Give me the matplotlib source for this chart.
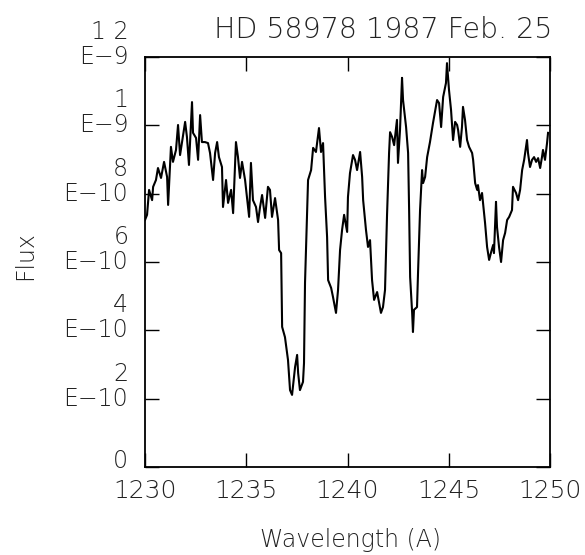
import matplotlib
matplotlib.use("Agg")
import matplotlib.pyplot as plt
import numpy as np

# spectrum (wavelength in A, flux in units of 1e-10)
wavelength = [
    1230.00, 1230.10, 1230.20, 1230.35, 1230.40, 1230.54, 1230.64, 1230.79, 1230.94, 1231.09,
    1231.14, 1231.28, 1231.38, 1231.53, 1231.63, 1231.73, 1231.88, 1231.98, 1232.07, 1232.17,
    1232.32, 1232.37, 1232.52, 1232.62, 1232.72, 1232.81, 1232.96, 1233.11, 1233.21, 1233.36,
    1233.46, 1233.56, 1233.65, 1233.80, 1233.85, 1234.00, 1234.10, 1234.25, 1234.35, 1234.49,
    1234.59, 1234.69, 1234.79, 1234.94, 1235.14, 1235.23, 1235.33, 1235.48, 1235.58, 1235.68,
    1235.78, 1235.93, 1236.07, 1236.17, 1236.27, 1236.42, 1236.57, 1236.62, 1236.72, 1236.77,
    1236.91, 1237.06, 1237.16, 1237.26, 1237.41, 1237.51, 1237.56, 1237.65, 1237.80, 1237.85,
    1237.90, 1238.00, 1238.05, 1238.20, 1238.30, 1238.44, 1238.59, 1238.69, 1238.79, 1238.89,
    1238.99, 1239.04, 1239.19, 1239.28, 1239.43, 1239.53, 1239.63, 1239.73, 1239.83, 1239.98,
    1240.02, 1240.12, 1240.27, 1240.37, 1240.47, 1240.62, 1240.72, 1240.77, 1240.91, 1241.01,
    1241.11, 1241.21, 1241.31, 1241.46, 1241.56, 1241.65, 1241.75, 1241.85, 1241.95, 1242.05,
    1242.10, 1242.20, 1242.30, 1242.44, 1242.49, 1242.59, 1242.69, 1242.74, 1242.89, 1242.99,
    1243.04, 1243.09, 1243.19, 1243.23, 1243.28, 1243.43, 1243.48, 1243.58, 1243.68, 1243.73,
    1243.83, 1243.93, 1244.07, 1244.22, 1244.42, 1244.52, 1244.62, 1244.72, 1244.86, 1244.91,
    1245.01, 1245.11, 1245.21, 1245.31, 1245.41, 1245.46, 1245.56, 1245.65, 1245.70, 1245.80,
    1245.90, 1246.00, 1246.15, 1246.20, 1246.30, 1246.40, 1246.44, 1246.54, 1246.64, 1246.69,
    1246.79, 1246.89, 1246.99, 1247.09, 1247.19, 1247.23, 1247.33, 1247.38, 1247.48, 1247.58,
    1247.68, 1247.78, 1247.88, 1247.98, 1248.12, 1248.17, 1248.32, 1248.42, 1248.52, 1248.62,
    1248.72, 1248.86, 1248.91, 1249.01, 1249.11, 1249.21, 1249.31, 1249.41, 1249.51, 1249.60,
    1249.65, 1249.75, 1249.85, 1249.90,
]
flux_e10 = [
    7.23, 7.38, 8.11, 7.81, 8.20, 8.40, 8.75, 8.46, 8.93, 8.49,
    7.67, 9.37, 8.93, 9.28, 10.01, 9.13, 9.72, 10.10, 9.66, 8.84,
    10.68, 9.78, 9.63, 8.99, 10.30, 9.51, 9.51, 9.48, 9.19, 8.40,
    9.19, 9.51, 9.07, 8.78, 7.61, 8.40, 7.73, 8.11, 7.43, 9.51,
    9.07, 8.46, 8.93, 8.40, 7.32, 8.90, 7.81, 7.61, 7.17, 7.61,
    7.96, 7.29, 8.20, 8.11, 7.32, 7.87, 7.23, 6.35, 6.26, 4.10,
    3.80, 3.13, 2.25, 2.11, 2.93, 3.28, 2.75, 2.25, 2.49, 3.04,
    5.39, 7.43, 8.40, 8.69, 9.34, 9.22, 9.92, 9.22, 9.48, 7.90,
    6.73, 5.47, 5.24, 4.98, 4.51, 5.18, 6.35, 6.94, 7.38, 6.88,
    7.90, 8.60, 9.13, 8.99, 8.69, 9.22, 8.49, 7.81, 6.94, 6.44,
    6.64, 5.47, 4.89, 5.12, 4.80, 4.51, 4.68, 5.18, 7.38, 9.19,
    9.80, 9.66, 9.42, 10.16, 8.90, 9.86, 11.39, 10.74, 9.95, 9.19,
    7.52, 5.56, 4.51, 3.95, 4.60, 4.68, 5.68, 7.52, 8.69, 8.31,
    8.49, 9.07, 9.51, 10.07, 10.74, 10.65, 9.95, 10.83, 11.24, 11.82,
    11.03, 10.45, 9.57, 10.10, 10.01, 9.86, 9.37, 9.95, 10.54, 10.16,
    9.57, 9.37, 9.19, 8.99, 8.31, 8.11, 8.25, 7.81, 8.02, 7.73,
    7.14, 6.44, 6.06, 6.29, 6.50, 6.26, 7.76, 7.02, 6.44, 6.00,
    6.64, 6.85, 7.23, 7.32, 7.52, 8.20, 8.02, 7.81, 8.11, 8.69,
    8.99, 9.57, 9.19, 8.78, 8.99, 9.07, 8.93, 9.04, 8.75, 9.07,
    9.28, 8.99, 9.48, 9.78,
]

xticks = [1230, 1235, 1240, 1245, 1250]
yticks = [0, 2e-10, 4e-10, 6e-10, 8e-10, 1e-9, 1.2e-9]
ytick_mant = ["0", "2", "4", "6", "8", "1", "1 2"]
ytick_exp = ["", "E\u221210", "E\u221210", "E\u221210", "E\u221210", "E\u22129", "E\u22129"]

plt.rcParams['font.family'] = ['DejaVu Sans']
plt.rcParams['font.weight'] = 'light'

fig = plt.figure(figsize=(5.85, 5.55), dpi=100)
ax = fig.add_axes([0.2479, 0.1586, 0.6924, 0.7387])

ax.plot(wavelength, np.array(flux_e10) * 1e-10, color='black', linewidth=1.5)

ax.set_xlim(1230, 1250)
ax.set_ylim(0, 1.2e-9)
ax.set_xticks(xticks)
ax.set_xticklabels([str(t) for t in xticks], fontsize=18, color='#222222')
ax.set_yticks(yticks)
ax.set_yticklabels([])
ax.tick_params(direction='in', length=10, width=1.0, top=True, right=True, pad=9)
for s in ax.spines.values():
    s.set_linewidth(1.3)

# two-line y tick labels, exponent line on the tick
for v, m, e in zip(yticks, ytick_mant, ytick_exp):
    if e:
        ax.annotate(e, xy=(0, v), xycoords=('axes fraction', 'data'), xytext=(-12, 0),
                    textcoords='offset points', ha='right', va='center', fontsize=17, color='#222222')
        ax.annotate(m, xy=(0, v), xycoords=('axes fraction', 'data'), xytext=(-12, 18),
                    textcoords='offset points', ha='right', va='center', fontsize=17, color='#222222')
    else:
        ax.annotate(m, xy=(0, v), xycoords=('axes fraction', 'data'), xytext=(-12, 4),
                    textcoords='offset points', ha='right', va='center', fontsize=17, color='#222222')

fig.text(0.043, 0.54, "Flux", rotation=90, ha='center', va='center', fontsize=17, color='#222222')
fig.text(0.6, 0.027, "Wavelength (A)", ha='center', va='center', fontsize=17, color='#222222')
fig.text(0.655, 0.946, "HD 58978 1987 Feb. 25", ha='center', va='center', fontsize=20.5, color='#222222')

fig.savefig("out.png", dpi=100, facecolor='white')
